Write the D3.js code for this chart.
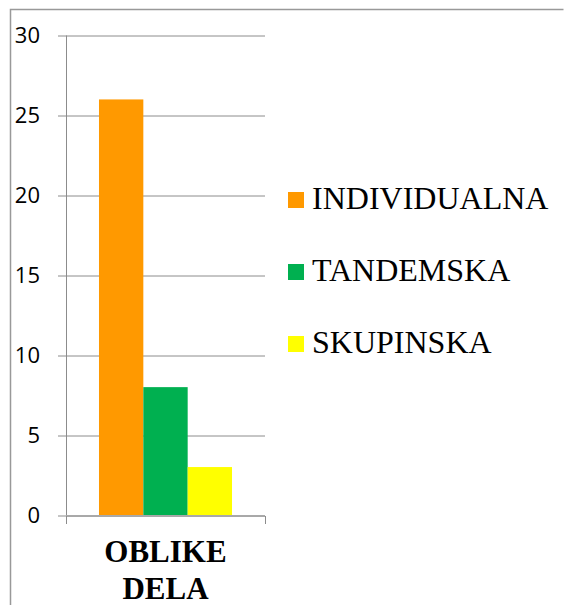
<!DOCTYPE html>
<html>
<head>
<meta charset="utf-8">
<script src="https://cdn.jsdelivr.net/npm/d3@7"></script>
<style>
  body { margin: 0; background: #fff; }
  .axis text { font-family: "Open Sans", "DejaVu Sans", sans-serif; font-size: 22px; fill: #000; }
</style>
</head>
<body>
<svg id="chart"></svg>
<script>
// data
const category = "OBLIKE DELA";
const series = ["INDIVIDUALNA", "TANDEMSKA", "SKUPINSKA"];
const values = [26, 8, 3];
const colors = ["#ff9900", "#00b050", "#ffff00"];
const yTicks = [0, 5, 10, 15, 20, 25, 30];

const width = 564, height = 605;
const margin = { top: 35.5, left: 66, bottom: 90, right: 299 };
const innerW = width - margin.left - margin.right;
const innerH = height - margin.top - margin.bottom;

const svg = d3.select("#chart").attr("width", width).attr("height", height);

// outer chart frame
svg.append("path")
  .attr("d", `M10.5,${height} V9.5 H563.5`)
  .attr("fill", "none")
  .attr("stroke", "#999")
  .attr("stroke-width", 1.5);

const g = svg.append("g").attr("transform", `translate(${margin.left},${margin.top})`);

const y = d3.scaleLinear().domain([0, 30]).range([innerH, 0]);
const x0 = d3.scaleBand().domain([category]).range([0, innerW]).paddingInner(0).paddingOuter(0.248);
const x1 = d3.scaleBand().domain(series).range([0, x0.bandwidth()]);

// gridlines
g.append("g")
  .selectAll("line")
  .data(yTicks)
  .join("line")
  .attr("x1", -8).attr("x2", innerW)
  .attr("y1", d => Math.round(y(d)) + 0.5)
  .attr("y2", d => Math.round(y(d)) + 0.5)
  .attr("stroke", "#8c8c8c");

// y axis
const yAxis = d3.axisLeft(y).tickValues(yTicks).tickSize(0).tickPadding(26);
g.append("g").attr("class", "axis y-axis").call(yAxis)
  .call(s => s.select(".domain").remove());
g.append("line")
  .attr("x1", 0.5).attr("x2", 0.5)
  .attr("y1", 0).attr("y2", innerH)
  .attr("stroke", "#8c8c8c");

// bars
g.append("g")
  .selectAll("rect")
  .data(series.map((s, i) => ({ s, v: values[i], c: colors[i] })))
  .join("rect")
  .attr("x", d => x0(category) + x1(d.s))
  .attr("width", x1.bandwidth())
  .attr("y", d => y(d.v))
  .attr("height", d => innerH - y(d.v))
  .attr("fill", d => d.c);

// x axis
const xAxisG = g.append("g").attr("transform", `translate(0,${Math.round(innerH) + 0.5})`);
xAxisG.append("line").attr("x1", 0).attr("x2", innerW).attr("stroke", "#8c8c8c");
xAxisG.selectAll(".tk")
  .data([0, innerW])
  .join("line")
  .attr("x1", d => d + 0.5).attr("x2", d => d + 0.5)
  .attr("y1", 0).attr("y2", 8)
  .attr("stroke", "#8c8c8c");

// category label, two lines
svg.append("g")
  .selectAll("text")
  .data(category.split(" "))
  .join("text")
  .style("font-family", "'Liberation Serif', serif")
  .style("font-weight", "bold")
  .style("font-size", "31px")
  .attr("text-anchor", "middle")
  .attr("x", margin.left + x0(category) + x0.bandwidth() / 2)
  .attr("y", (d, i) => 562 + i * 37)
  .text(d => d);

// legend
const legend = svg.append("g").attr("transform", "translate(288,0)");
const li = legend.selectAll("g")
  .data(series.map((s, i) => ({ s, c: colors[i] })))
  .join("g")
  .attr("transform", (d, i) => `translate(0,${209 + i * 72})`);
li.append("rect").attr("x", 0).attr("y", -17).attr("width", 16).attr("height", 16).attr("fill", d => d.c);
li.append("text")
  .style("font-family", "'Liberation Serif', serif")
  .style("font-size", "32px")
  .attr("x", 24).attr("y", 0)
  .text(d => d.s);
</script>
</body>
</html>
